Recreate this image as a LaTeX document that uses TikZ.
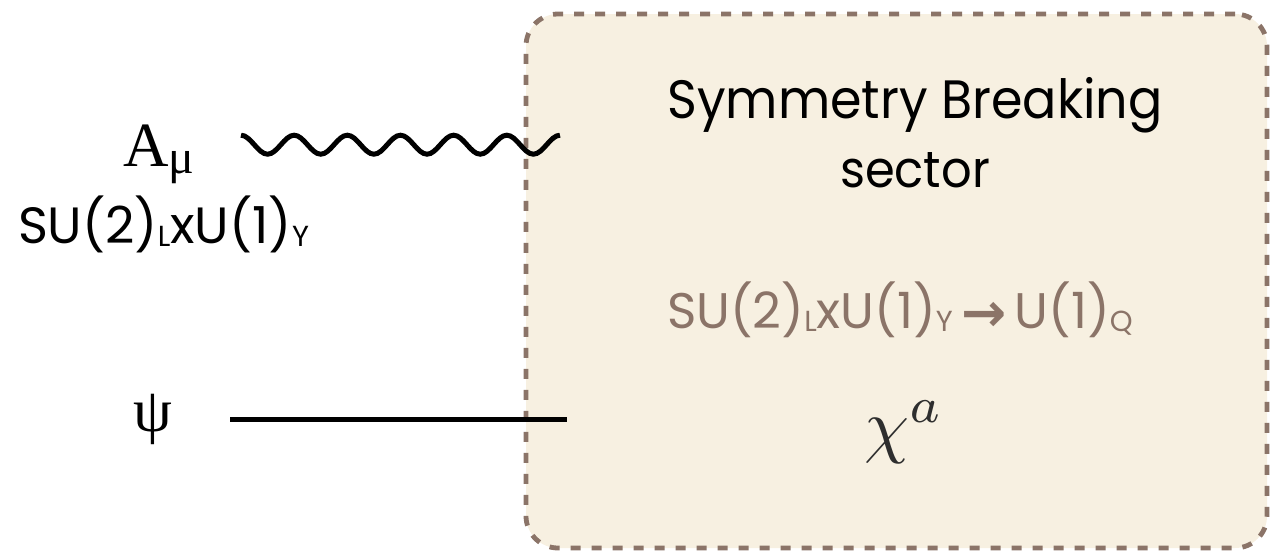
\documentclass[tikz,border=0pt]{standalone}
\usepackage{fontspec}
\setmainfont{Poppins}
\newfontfamily\headfont{Poppins}[FakeStretch=0.94]
\newfontfamily\tnr{Liberation Serif}
\newfontfamily\arr{DejaVu Sans}
\definecolor{boxfill}{HTML}{F7F0E1}
\definecolor{boxline}{HTML}{8B7468}
\definecolor{mathgray}{HTML}{2E2E2E}
\newcommand{\subtx}[1]{\raisebox{-3pt}{\fontsize{29}{29}\selectfont #1}}
\tikzset{
  sbbox/.style={draw=boxline, fill=boxfill, line width=4.8pt, dash pattern=on 10pt off 11pt, rounded corners=32pt, minimum width=741pt, minimum height=534pt, inner sep=0pt},
  lbl/.style={inner sep=0pt, outer sep=0pt},
  gluon/.style={line width=5pt, black},
  fermion/.style={line width=5pt, black},
}
\begin{document}
\begin{tikzpicture}[x=1pt,y=-1pt]
\useasboundingbox (0,0) rectangle (1271,552);
\node[sbbox] (sb) at (896.5,281) {};
% labels
\node[lbl, anchor=base] (head) at (915,118) {\headfont\fontsize{54}{60}\selectfont Symmetry Breaking};
\node[lbl, anchor=base] (sect) at (915,187) {\headfont\fontsize{51}{60}\selectfont sector};
\node[lbl, anchor=base west, text=boxline] (brk) at (667,328) {\fontsize{50}{54}\selectfont SU(2)\subtx{L}xU(1)\subtx{Y}\,\raisebox{-3pt}{\arr\bfseries\fontsize{54}{54}\selectfont →}\,U(1)\subtx{Q}};
\node[lbl, anchor=base west, text=mathgray] (chi) at (864,449) {\scalebox{7.2}{$\chi^a$}};
\node[lbl, anchor=base west] (A) at (123,166) {\tnr\fontsize{63}{66}\selectfont A\raisebox{-7pt}{\fontsize{48}{50}\selectfont μ}};
\node[lbl, anchor=base west] (grp) at (18,243) {\fontsize{51}{54}\selectfont SU(2)\subtx{L}xU(1)\subtx{Y}};
\node[lbl, anchor=base west] (psi) at (133,431) {\tnr\fontsize{62}{66}\selectfont ψ};
% connectors
\coordinate (ws) at (241,135.2);
\coordinate (ps) at (230,419.3);
\coordinate (pe) at (567,419.3);
\draw[gluon] (ws) \foreach \i in {1,...,6} { cos ++(13.29,9.5) sin ++(13.29,9.5) cos ++(13.29,-9.5) sin ++(13.29,-9.5) };
\draw[fermion] (ps) -- (pe);
\end{tikzpicture}
\end{document}
